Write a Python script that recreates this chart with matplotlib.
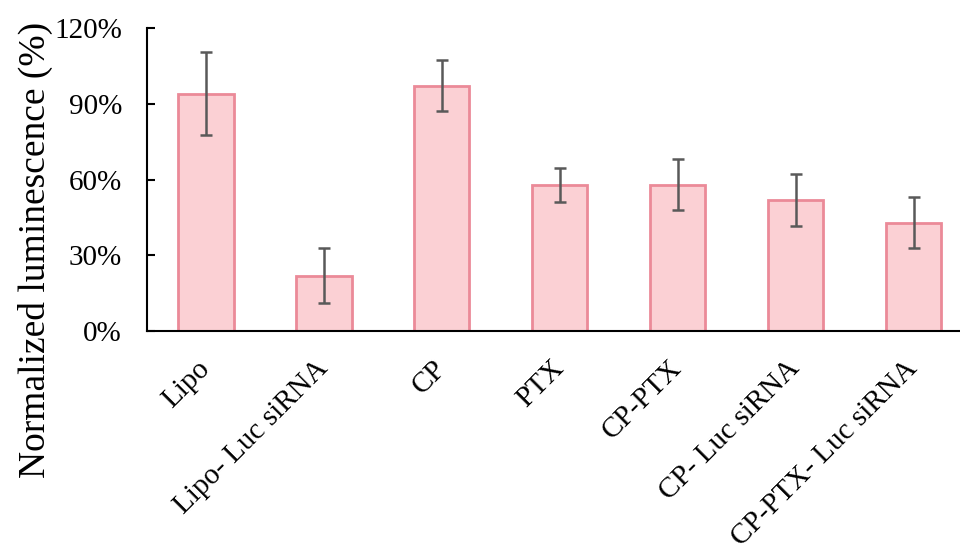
import matplotlib.pyplot as plt
from matplotlib.ticker import FuncFormatter

groups = ['Lipo', 'Lipo- Luc siRNA', 'CP', 'PTX', 'CP-PTX', 'CP- Luc siRNA', 'CP-PTX- Luc siRNA']
values = [94, 22, 97.2, 58, 58, 52, 43]
errors = [16.5, 11, 10, 6.7, 10, 10.3, 10]
y_ticks = [0, 30, 60, 90, 120]

plt.rcParams['font.family'] = 'Liberation Serif'

fig = plt.figure(figsize=(9.6, 5.5), dpi=100)
ax = fig.add_axes([0.153, 0.398, 0.86, 0.551])

x = range(len(groups))
ax.bar(x, values, width=0.47, color='#fbd0d4', edgecolor='#eb8a98', linewidth=2, zorder=2)
ax.errorbar(x, values, yerr=errors, fmt='none', ecolor='#595959', elinewidth=1.8,
            capsize=4, capthick=1.8, zorder=3)

ax.set_xlim(-0.5, len(groups) - 0.5)
ax.set_ylim(0, 120)
ax.set_yticks(y_ticks)
ax.yaxis.set_major_formatter(FuncFormatter(lambda v, p: f'{v:.0f}%'))
ax.tick_params(axis='y', direction='in', length=6, width=1.5, labelsize=21, pad=18)
ax.tick_params(axis='x', length=0, labelsize=21, pad=24)
ax.set_xticks(list(x))
ax.set_xticklabels(groups, rotation=45, ha='right', rotation_mode='anchor')
for lbl in ax.get_xticklabels():
    lbl.set_va('center')

ax.spines['top'].set_visible(False)
ax.spines['right'].set_visible(False)
ax.spines['left'].set_linewidth(1.5)
ax.spines['bottom'].set_linewidth(1.5)

fig.text(0.037, 0.545, 'Normalized luminescence (%)', rotation=90, fontsize=27,
         ha='center', va='center')

fig.savefig('out.png', dpi=100)
